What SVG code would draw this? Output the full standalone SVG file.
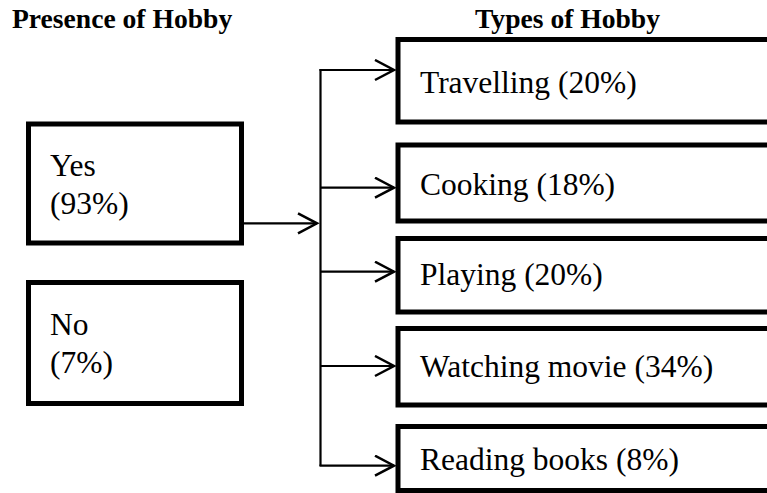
<svg xmlns="http://www.w3.org/2000/svg" width="767" height="493" viewBox="0 0 767 493">
<defs>
<style>
.box{fill:#fff;stroke:#000;stroke-width:5}
.t{font-family:"Liberation Serif","Times New Roman",serif;font-size:31.5px;fill:#000}
.h{font-family:"Liberation Serif","Times New Roman",serif;font-size:27.6px;font-weight:bold;fill:#000}
.c{fill:none;stroke:#000;stroke-width:2.2}
</style>
<marker id="arr" markerWidth="24" markerHeight="24" refX="20" refY="11" markerUnits="userSpaceOnUse" orient="auto">
<path d="M1,1 L20,11 L1,21" fill="none" stroke="#000" stroke-width="2.5"/>
</marker>
</defs>
<rect width="767" height="493" fill="#fff"/>
<text class="h" x="12" y="28">Presence of Hobby</text>
<text class="h" x="475" y="28">Types of Hobby</text>
<g id="connectors">
<path class="c" d="M244,223.3 H317" marker-end="url(#arr)"/>
<path class="c" d="M320.5,69 V466"/>
<path class="c" d="M319.5,70 H394" marker-end="url(#arr)"/>
<path class="c" d="M320.5,187.7 H394" marker-end="url(#arr)"/>
<path class="c" d="M320.5,271.7 H394" marker-end="url(#arr)"/>
<path class="c" d="M320.5,366 H394" marker-end="url(#arr)"/>
<path class="c" d="M319.5,465.7 H394" marker-end="url(#arr)"/>
</g>
<g id="yes"><rect class="box" x="28.5" y="124" width="213" height="119"/><text class="t" x="50" y="176">Yes</text><text class="t" x="50" y="214">(93%)</text></g>
<g id="no"><rect class="box" x="28.5" y="282.5" width="213" height="121"/><text class="t" x="50" y="335">No</text><text class="t" x="50" y="373">(7%)</text></g>
<g id="travelling"><rect class="box" x="398" y="39.5" width="400" height="82.5"/><text class="t" x="420" y="93">Travelling (20%)</text></g>
<g id="cooking"><rect class="box" x="398" y="145" width="400" height="76"/><text class="t" x="420" y="195">Cooking (18%)</text></g>
<g id="playing"><rect class="box" x="398" y="238.5" width="400" height="73.5"/><text class="t" x="420" y="285">Playing (20%)</text></g>
<g id="watching"><rect class="box" x="398" y="328.5" width="400" height="76.5"/><text class="t" x="420" y="377">Watching movie (34%)</text></g>
<g id="reading"><rect class="box" x="398" y="426.5" width="400" height="64"/><text class="t" x="420" y="470">Reading books (8%)</text></g>
</svg>
